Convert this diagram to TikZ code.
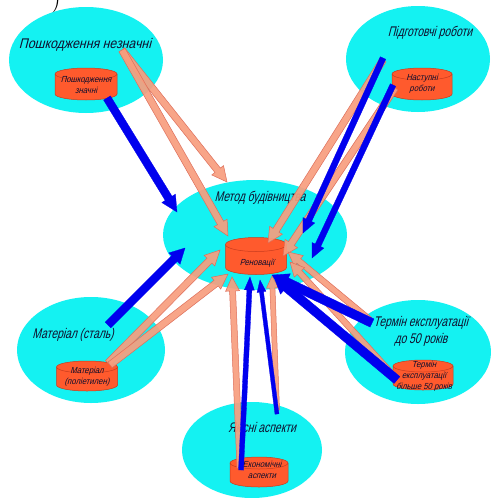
\documentclass[tikz,border=0pt]{standalone}
\usepackage{fontspec}
\usetikzlibrary{calc,shapes.geometric}
\newfontfamily\gostn[FakeStretch=0.74,FakeSlant=0.26]{Liberation Sans}
\newfontfamily\gostw[FakeStretch=0.88,FakeSlant=0.26]{Liberation Sans}
\definecolor{ellc}{RGB}{20,242,242}
\definecolor{cylc}{RGB}{255,90,45}
\definecolor{cyle}{RGB}{200,60,30}
\definecolor{salm}{RGB}{248,158,126}
\definecolor{salme}{RGB}{222,110,90}
\definecolor{arrb}{RGB}{0,0,238}
\definecolor{txt}{RGB}{15,15,45}
% cylinder: cx, cy, half width, height, cap radius
\newcommand\cyl[5]{%
  \pgfmathsetmacro\cta{#1-#3}\pgfmathsetmacro\ctb{#1+#3}%
  \pgfmathsetmacro\ctop{#2+#4/2-#5}\pgfmathsetmacro\cbot{#2-#4/2+#5}%
  \filldraw[cylbody] (\cta,\ctop) -- (\cta,\cbot)
    arc[start angle=180,end angle=360,x radius=#3pt,y radius=#5pt]
    -- (\ctb,\ctop) arc[start angle=0,end angle=180,x radius=#3pt,y radius=#5pt] -- cycle;
  \draw[cyltop] (\cta,\ctop) arc[start angle=180,end angle=360,x radius=#3pt,y radius=#5pt];
}
% fat arrow: style, from, to, half shaft, half head, head length
\newcommand\fatarrow[6]{%
  \coordinate (fahead) at ($(#3)!#6!(#2)$);
  \path[#1] ($(#2)!#4!90:(#3)$) -- ($(fahead)!#4!90:(#3)$) -- ($(fahead)!#5!90:(#3)$)
    -- (#3) -- ($(fahead)!#5!-90:(#3)$) -- ($(fahead)!#4!-90:(#3)$) -- ($(#2)!#4!-90:(#3)$) -- cycle;
}
\begin{document}
\begin{tikzpicture}[x=1pt,y=1pt,
 ell/.style={ellipse, fill=ellc, draw=none, inner sep=0pt},
 lab/.style={font=\gostn\fontsize{14}{17}\selectfont, text=txt, align=center, inner sep=0pt},
 labw/.style={font=\gostw\fontsize{14}{17}\selectfont, text=txt, inner sep=0pt},
 clab/.style={font=\gostw\fontsize{8.8}{11}\selectfont, text=txt, align=center, inner sep=0pt},
 cylbody/.style={fill=cylc, draw=cyle, line width=0.5pt},
 cyltop/.style={draw=cyle, line width=0.5pt},
 sarr/.style={fill=salm, draw=salme, line width=0.5pt, fill opacity=0.92},
 barr/.style={fill=arrb, draw=arrb, line width=0.3pt}]
\useasboundingbox (0,0) rectangle (490,-498);
\fill[white] (0,0) rectangle (490,-498);
\node[font=\fontsize{30}{30}\selectfont, inner sep=0pt] (paren) at (56,1) {)};
% ellipses
\node[ell, minimum width=154pt, minimum height=106pt] (e1) at (86,-60) {};
\node[ell, minimum width=144pt, minimum height=106pt] (e2) at (418,-59) {};
\node[ell, minimum width=184pt, minimum height=110pt] (e3) at (255,-235) {};
\node[ell, minimum width=148pt, minimum height=106pt] (e4) at (91,-350) {};
\node[ell, minimum width=146pt, minimum height=104pt] (e5) at (418,-352) {};
\node[ell, minimum width=140pt, minimum height=96pt] (e6) at (252,-450) {};
% cylinders
\cyl{86}{-84}{31}{32}{6}
\cyl{422}{-84}{30}{32}{6}
\cyl{256}{-256}{30.5}{37}{7}
\cyl{87}{-376}{30.5}{30}{6}
\cyl{423}{-375}{30}{30}{6}
\cyl{259}{-472}{29}{30}{6}
% labels
\node[labw] (t1) at (85,-45) {Пошкодження незначні};
\node[lab] (t2) at (430,-33) {Підготовчі роботи};
\node[lab] (t3) at (260,-198) {Метод будівництва};
\node[lab] (t4) at (73,-335) {Матеріал (сталь)};
\node[lab] (t5) at (421,-331) {Термін експлуатації\\до 50 років};
\node[lab] (t6) at (262,-427) {Якісні аспекти};
\node[clab] (c1) at (86,-85) {Пошкодження\\значні};
\node[clab] (c2) at (422,-84) {Наступні\\роботи};
\node[clab] (c3) at (257,-263) {Реновації};
\node[clab] (c4) at (87,-377) {Матеріал\\(поліетилен)};
\node[clab] (c5) at (424,-376) {Термін\\експлуатації\\більше 50 років};
\node[clab] (c6) at (262,-470) {Економічні\\аспекти};
% arrow end points
\coordinate (s1s) at (122,-50);  \coordinate (s1e) at (227,-182);
\coordinate (s2e) at (228,-236);
\coordinate (s3s) at (383,-60);  \coordinate (s3e) at (268,-243);
\coordinate (s4s) at (395,-88);  \coordinate (s4e) at (283,-256);
\coordinate (s5s) at (370,-320); \coordinate (s5e) at (288,-252);
\coordinate (s6s) at (393,-375); \coordinate (s6e) at (290,-262);
\coordinate (s7s) at (108,-363); \coordinate (s7e) at (220,-250);
\coordinate (s8s) at (110,-365); \coordinate (s8e) at (228,-274);
\coordinate (s9s) at (240,-468); \coordinate (s9e) at (232,-277);
\coordinate (s10s) at (277,-410); \coordinate (s10e) at (272,-276);
\coordinate (b1s) at (107,-98);  \coordinate (b1e) at (177,-212);
\coordinate (b2s) at (383,-58);  \coordinate (b2e) at (303,-233);
\coordinate (b3s) at (393,-85);  \coordinate (b3e) at (312,-258);
\coordinate (b4s) at (108,-325); \coordinate (b4e) at (185,-248);
\coordinate (b5s) at (372,-323); \coordinate (b5e) at (272,-275);
\coordinate (b6s) at (397,-380); \coordinate (b6e) at (274,-277);
\coordinate (b7s) at (241,-470); \coordinate (b7e) at (250,-277);
\coordinate (b8s) at (277,-414); \coordinate (b8e) at (260,-280);
% salmon arrows
\fatarrow{sarr}{s1s}{s1e}{3.5pt}{7.5pt}{15pt}
\fatarrow{sarr}{s1s}{s2e}{3.5pt}{7.5pt}{15pt}
\fatarrow{sarr}{s3s}{s3e}{3.5pt}{7.5pt}{15pt}
\fatarrow{sarr}{s4s}{s4e}{3.5pt}{7.5pt}{15pt}
\fatarrow{sarr}{s5s}{s5e}{3pt}{7pt}{14pt}
\fatarrow{sarr}{s6s}{s6e}{3pt}{7pt}{14pt}
\fatarrow{sarr}{s7s}{s7e}{3.5pt}{7.5pt}{15pt}
\fatarrow{sarr}{s8s}{s8e}{3.5pt}{7.5pt}{15pt}
\fatarrow{sarr}{s9s}{s9e}{3pt}{7pt}{14pt}
\fatarrow{sarr}{s10s}{s10e}{2.5pt}{6pt}{12pt}
% blue arrows
\fatarrow{barr}{b1s}{b1e}{4pt}{8pt}{16pt}
\fatarrow{barr}{b2s}{b2e}{3pt}{6.5pt}{14pt}
\fatarrow{barr}{b3s}{b3e}{3pt}{6.5pt}{14pt}
\fatarrow{barr}{b4s}{b4e}{4pt}{8pt}{15pt}
\fatarrow{barr}{b5s}{b5e}{4.5pt}{9pt}{16pt}
\fatarrow{barr}{b6s}{b6e}{4.5pt}{9pt}{16pt}
\fatarrow{barr}{b7s}{b7e}{2.5pt}{5pt}{13pt}
\fatarrow{barr}{b8s}{b8e}{2pt}{4.5pt}{12pt}
\end{tikzpicture}
\end{document}
